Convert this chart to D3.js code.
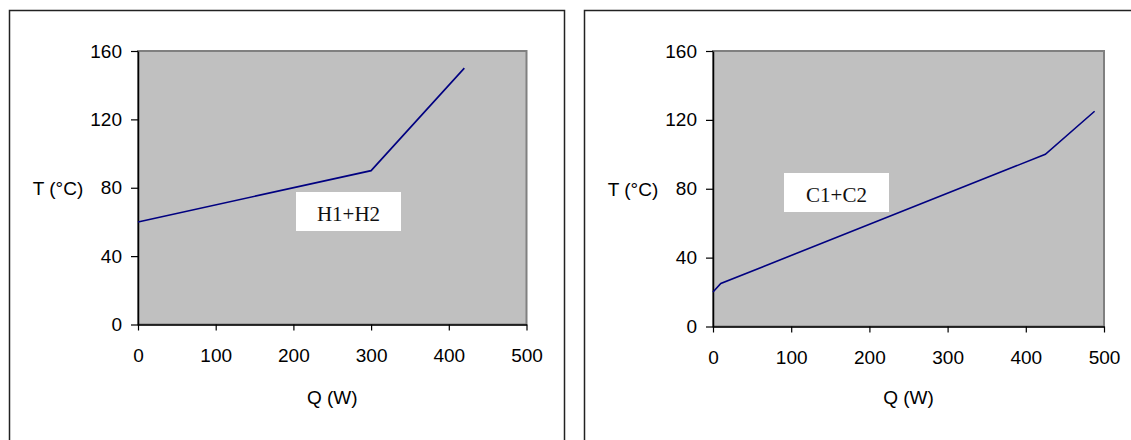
<!DOCTYPE html>
<html>
<head>
<meta charset="utf-8">
<script src="https://cdn.jsdelivr.net/npm/d3@7"></script>
<style>
html,body{margin:0;padding:0;background:#fff;}
svg{display:block;}
</style>
</head>
<body>
<svg id="chart" width="1131" height="440"></svg>
<script>
// Data
const hotQ = [0, 300, 420];
const hotT = [60, 90, 150];
const coldQ = [0, 10, 425, 488];
const coldT = [20, 25, 100, 125];
const xTicks = [0, 100, 200, 300, 400, 500];
const yTicks = [0, 40, 80, 120, 160];
const labels = ["H1+H2", "C1+C2"];
const xTitle = "Q (W)";
const yTitle = "T (°C)";

const svg = d3.select("#chart");
const sans = "Liberation Sans, Arial, sans-serif";

const panels = [
  {frame:[9.5, 10.5, 555, 440], plot:{l:138, r:526.5, t:51, b:324.5}, q:hotQ, t:hotT, label:labels[0], box:{x:296, y:192, w:105, h:39}},
  {frame:[584.5, 10.5, 560, 440], plot:{l:713, r:1104, t:51, b:326.5}, q:coldQ, t:coldT, label:labels[1], box:{x:784, y:173, w:105, h:39}}
];

panels.forEach(p => {
  svg.append("rect").attr("x", p.frame[0]).attr("y", p.frame[1])
    .attr("width", p.frame[2]).attr("height", p.frame[3])
    .attr("fill", "none").attr("stroke", "#222").attr("stroke-width", 1.5);

  const x = d3.scaleLinear().domain([0, 500]).range([p.plot.l, p.plot.r]);
  const y = d3.scaleLinear().domain([0, 160]).range([p.plot.b, p.plot.t]);

  svg.append("rect").attr("x", x(0)).attr("y", y(160))
    .attr("width", x(500) - x(0)).attr("height", y(0) - y(160))
    .attr("fill", "#c0c0c0").attr("stroke", "#808080").attr("stroke-width", 2);

  const xa = svg.append("g").attr("transform", `translate(0,${y(0)})`)
    .call(d3.axisBottom(x).tickValues(xTicks).tickSize(6).tickSizeOuter(0).tickPadding(18).tickFormat(d3.format("d")));
  const ya = svg.append("g").attr("transform", `translate(${x(0)},0)`)
    .call(d3.axisLeft(y).tickValues(yTicks).tickSize(7).tickSizeOuter(0).tickPadding(9).tickFormat(d3.format("d")));
  [xa, ya].forEach(a => {
    a.select(".domain").attr("stroke", "#000").attr("stroke-width", 1.5);
    a.selectAll(".tick line").attr("stroke", "#000").attr("stroke-width", 1.2);
    a.selectAll(".tick text").attr("font-family", sans)
      .attr("font-size", 19).attr("fill", "#000");
  });

  svg.append("text").attr("x", (x(0) + x(500)) / 2).attr("y", 404)
    .attr("text-anchor", "middle").attr("font-family", sans)
    .attr("font-size", 19).text(xTitle);
  svg.append("text").attr("x", x(0) - 80).attr("y", y(80) + 7)
    .attr("text-anchor", "middle").attr("font-family", sans)
    .attr("font-size", 19).text(yTitle);

  const pts = p.q.map((q, i) => [q, p.t[i]]);
  svg.append("path").datum(pts)
    .attr("d", d3.line().x(d => x(d[0])).y(d => y(d[1])))
    .attr("fill", "none").attr("stroke", "#000080").attr("stroke-width", 1.6);

  svg.append("rect").attr("x", p.box.x).attr("y", p.box.y)
    .attr("width", p.box.w).attr("height", p.box.h).attr("fill", "#fff");
  svg.append("text").attr("x", p.box.x + p.box.w / 2).attr("y", p.box.y + 29)
    .attr("text-anchor", "middle").attr("font-family", "Liberation Serif, Times New Roman, serif")
    .attr("font-size", 21).attr("fill", "#111").text(p.label);
});
</script>
</body>
</html>
